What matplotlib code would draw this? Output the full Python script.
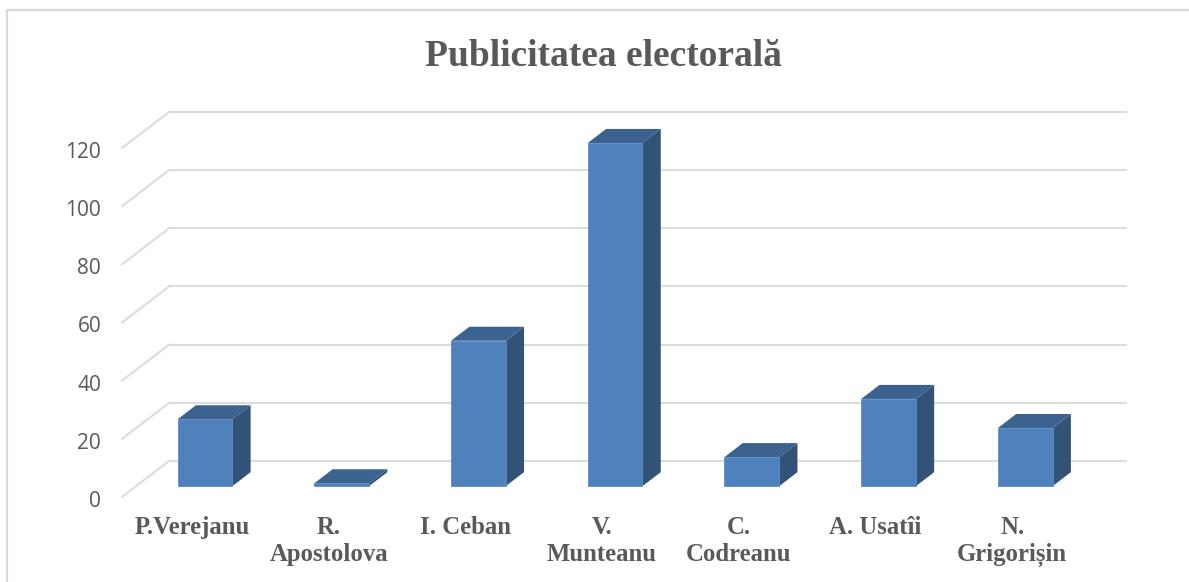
import matplotlib.pyplot as plt
from matplotlib.patches import Polygon
from matplotlib.transforms import ScaledTranslation

labels = ['P.Verejanu', 'R.\nApostolova', 'I. Ceban', 'V.\nMunteanu', 'C.\nCodreanu', 'A. Usatîi', 'N.\nGrigorișin']
values = [23, 1, 50, 118, 10, 30, 20]
yticks = [0, 20, 40, 60, 80, 100, 120]

W, H = 1189, 582
# depth of the fake 3d box, in data units
depth_x = 47 / 136.7
depth_y = 36 / 2.908
bar_w = 0.40
bar_off = 0.31   # where the bar starts inside the depth
bar_depth = 0.39

fig = plt.figure(figsize=(W / 100, H / 100), dpi=100)
ax = fig.add_axes([122 / W, 1 - 497 / H, 957 / W, 349 / H])
ax.set_xlim(-0.5, 6.5)
ax.set_ylim(0, 120)
for s in ax.spines.values():
    s.set_visible(False)

grid = '#dcdcdc'
for t in yticks:
    ax.plot([-0.5, -0.5 + depth_x], [t, t + depth_y], color=grid, lw=1.5, clip_on=False, zorder=1)
    ax.plot([-0.5 + depth_x, 6.5 + depth_x], [t + depth_y, t + depth_y], color=grid, lw=1.5, clip_on=False, zorder=1)

front = '#4f81bd'
top = '#3c6290'
side = '#325278'
for i, v in enumerate(values):
    x0 = i - bar_w / 2 + bar_off * depth_x
    x1 = x0 + bar_w
    y0 = 0.30 * depth_y
    y1 = y0 + v
    dx = bar_depth * depth_x
    dy = bar_depth * depth_y
    ax.add_patch(Polygon([(x1, y0), (x1 + dx, y0 + dy), (x1 + dx, y1 + dy), (x1, y1)],
                         fc=side, ec='none', clip_on=False, zorder=3))
    ax.add_patch(Polygon([(x0, y1), (x0 + dx, y1 + dy), (x1 + dx, y1 + dy), (x1, y1)],
                         fc=top, ec='none', clip_on=False, zorder=3))
    ax.add_patch(Polygon([(x0, y0), (x1, y0), (x1, y1), (x0, y1)],
                         fc=front, ec='#5b8cc6', lw=0.6, clip_on=False, zorder=4))

ax.set_yticks(yticks)
ax.set_xticks(range(len(labels)))
ax.set_xticklabels(labels, family='Liberation Serif', fontweight='bold', fontsize=17.8,
                   color='#595959', linespacing=1.2)
ax.tick_params(axis='x', length=0, pad=14)
ax.tick_params(axis='y', length=0, pad=15, labelsize=15, labelcolor='#595959')
nudge_y = ScaledTranslation(0, -2 / 100, fig.dpi_scale_trans)
nudge_x = ScaledTranslation(1.5 / 100, 0, fig.dpi_scale_trans)
for lb in ax.get_yticklabels():
    lb.set_family('Open Sans')
    lb.set_transform(lb.get_transform() + nudge_y)
for lb in ax.get_xticklabels():
    lb.set_transform(lb.get_transform() + nudge_x)

fig.text(603 / W, 1 - 56 / H, 'Publicitatea electorală', family='Liberation Serif', fontweight='bold',
         fontsize=27, color='#595959', ha='center', va='center')

# chart frame, only top and left show in the crop
fig.add_artist(plt.Line2D([7 / W, 7 / W, 1], [0, 1 - 10 / H, 1 - 10 / H],
                          color='#d9d9d9', lw=1.6))

fig.savefig('out.png', dpi=100)
